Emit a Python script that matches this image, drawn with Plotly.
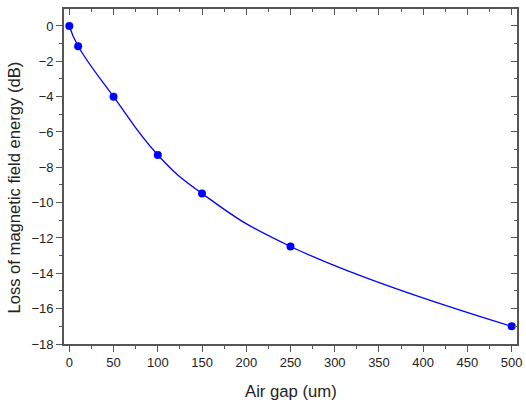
import plotly.graph_objects as go

air_gap = [0, 10, 50, 100, 150, 250, 500]
loss_db = [0, -1.15, -4.0, -7.3, -9.48, -12.48, -17.0]

x_ticks = list(range(0, 501, 50))
y_ticks = list(range(-18, 1, 2))

AX = "#555555"
FONT = "Liberation Sans, Arial, sans-serif"
XR = [-6, 506]
YR = [-18, 0.96]

fig = go.Figure()
fig.add_trace(go.Scatter(
    x=air_gap, y=loss_db, mode="lines+markers",
    line=dict(color="#0000FF", width=1.3, shape="spline", smoothing=1.3),
    marker=dict(color="#0000FF", size=8),
    showlegend=False,
))
fig.add_trace(go.Scatter(x=air_gap, y=loss_db, xaxis="x2", yaxis="y2",
                         mode="markers", marker=dict(opacity=0), showlegend=False, hoverinfo="skip"))

common = dict(showgrid=False, zeroline=False, showline=True, linecolor=AX, linewidth=1.6,
              ticklen=6, tickwidth=1.3, tickcolor=AX, automargin=False,
              tickfont=dict(family=FONT, size=13, color="#222222"))

fig.update_layout(
    width=526, height=404,
    margin=dict(l=64, r=9, t=9, b=60),
    paper_bgcolor="white", plot_bgcolor="white",
    font=dict(family=FONT, color="#222222"),
    xaxis=dict(range=XR, tickvals=x_ticks, ticks="outside",
               minor=dict(dtick=25, tick0=0, ticks="outside", ticklen=3, tickcolor=AX, tickwidth=1.3),
               **common),
    yaxis=dict(range=YR, tickvals=y_ticks, ticks="outside",
               minor=dict(dtick=1, tick0=0, ticks="outside", ticklen=3, tickcolor=AX, tickwidth=1.3),
               **common),
    xaxis2=dict(overlaying="x", side="top", anchor="y", range=XR,
                tickvals=x_ticks, ticks="inside", showticklabels=False,
                minor=dict(dtick=25, tick0=0, ticks="inside", ticklen=3, tickcolor=AX, tickwidth=1.3),
                **common),
    yaxis2=dict(overlaying="y", side="right", anchor="x", range=YR,
                tickvals=y_ticks, ticks="inside", showticklabels=False,
                minor=dict(dtick=1, tick0=0, ticks="inside", ticklen=3, tickcolor=AX, tickwidth=1.3),
                **common),
    annotations=[
        dict(text="Air gap (um)", xref="paper", yref="paper", x=0.5, y=0, yshift=-47,
             xanchor="center", yanchor="middle", showarrow=False,
             font=dict(family=FONT, size=16.7, color="#222222")),
        dict(text="Loss of magnetic field energy (dB)", xref="paper", yref="paper", x=0, y=0.467,
             xshift=-49, xanchor="center", yanchor="middle", textangle=-90, showarrow=False,
             font=dict(family=FONT, size=16.6, color="#222222")),
    ],
)

fig.write_html("out.html", config={"displayModeBar": False},
               post_script="document.body.style.margin='0';document.body.style.overflow='hidden';")
